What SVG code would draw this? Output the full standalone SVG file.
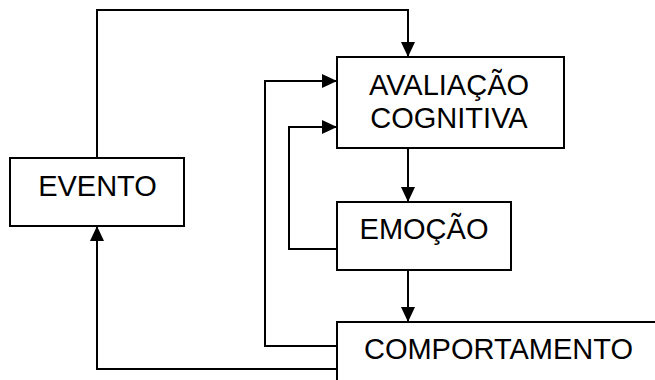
<svg xmlns="http://www.w3.org/2000/svg" width="655" height="380" viewBox="0 0 655 380">
<style>
.box{fill:#fff;stroke:#000;stroke-width:2}
.lbl{font-family:"Liberation Sans",Arial,sans-serif;font-size:29px;fill:#000;text-anchor:middle}
.conn{fill:none;stroke:#000;stroke-width:2;marker-end:url(#ah)}
.plain{fill:none;stroke:#000;stroke-width:2}
</style>
<defs>
<marker id="ah" viewBox="0 0 15 14" refX="15" refY="7" markerWidth="15" markerHeight="14" markerUnits="userSpaceOnUse" orient="auto">
<path d="M0,0 L15,7 L0,14 z" fill="#000"/>
</marker>
</defs>
<rect width="655" height="380" fill="#fff"/>
<g id="connectors">
<path class="conn" d="M97,158 V10 H408 V57"/>
<path class="conn" d="M337,346 H265 V81 H337"/>
<path class="conn" d="M337,249 H289 V127 H337"/>
<path class="conn" d="M408,148 V202"/>
<path class="conn" d="M408,270 V322"/>
<path class="conn" d="M337,369 H97 V226"/>
</g>
<g id="evento">
<rect class="box" x="10" y="158" width="174" height="68"/>
<text class="lbl" x="97.5" y="196">EVENTO</text>
</g>
<g id="avaliacao">
<rect class="box" x="337" y="57" width="227" height="91"/>
<text class="lbl" x="449" y="95">AVALIAÇÃO</text>
<text class="lbl" x="449" y="128">COGNITIVA</text>
</g>
<g id="emocao">
<rect class="box" x="337" y="202" width="174" height="68"/>
<text class="lbl" x="424" y="239">EMOÇÃO</text>
</g>
<g id="comportamento">
<rect class="box" x="337" y="322" width="330" height="80"/>
<text class="lbl" x="498.5" y="359">COMPORTAMENTO</text>
</g>
</svg>
